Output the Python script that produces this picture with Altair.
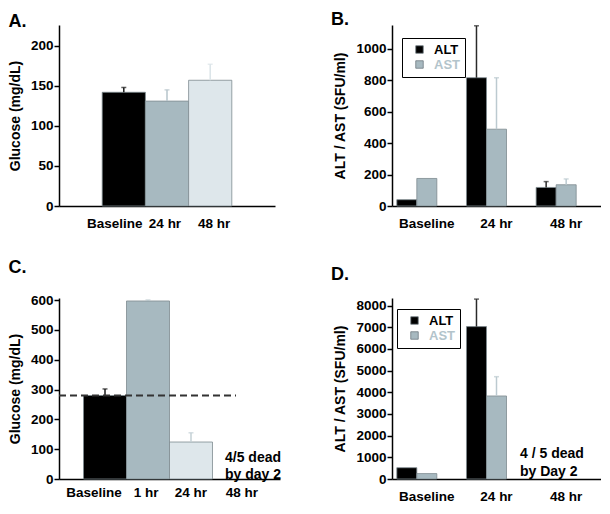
import altair as alt
import pandas as pd

FONT = "Liberation Sans"

# ---------------- data ----------------
# Panel A: glucose, baseline / 24 hr / 48 hr
a_cats = ["Baseline", "24 hr", "48 hr"]
a_vals = [142, 131, 157]
a_errs = [148, 145, 177]
a_fill = ["#000000", "#a7b9c0", "#dee7eb"]
a_ecol = ["#1a1a1a", "#b6c5cb", "#dbe4e8"]

# Panel B: ALT / AST
b_cats = ["Baseline", "24 hr", "48 hr"]
b_series = ["ALT", "AST"]
b_alt = [40, 815, 118]
b_alt_err = [None, 1145, 155]
b_ast = [175, 488, 135]
b_ast_err = [None, 815, 172]

# Panel C: glucose, baseline / 1 hr / 24 hr / 48 hr
c_cats = ["Baseline", "1 hr", "24 hr", "48 hr"]
c_vals = [280, 597, 124, None]
c_errs = [302, 600, 155, None]
c_fill = ["#000000", "#a7b9c0", "#dee7eb", "#ffffff"]
c_ecol = ["#1a1a1a", "#b6c5cb", "#c3d0d5", "#ffffff"]
c_threshold = [280]
c_note = ["4/5 dead\nby day 2"]
c_note_y = [71]

# Panel D: ALT / AST
d_cats = ["Baseline", "24 hr", "48 hr"]
d_alt = [520, 7030, None]
d_alt_err = [None, 8300, None]
d_ast = [250, 3830, None]
d_ast_err = [None, 4720, None]
d_note = ["4 / 5 dead\nby Day 2"]
d_note_y = [1150]

SERIES_COLORS = ["#000000", "#a7b9c0"]
SERIES_ECOL = {"ALT": "#2a2a2a", "AST": "#bccad0"}

# ---------------- helpers ----------------
def yaxis(title, values):
    return alt.Axis(title=title, values=values, format="d", grid=False, domainColor="black",
                    domainWidth=1.5, tickColor="black", tickWidth=1.5, tickSize=5,
                    labelFont=FONT, labelFontSize=13.5, labelFontWeight="bold",
                    labelColor="black", labelPadding=1, labelFlush=False,
                    titleFont=FONT, titleFontSize=14, titleFontWeight="bold",
                    titleColor="black", titlePadding=8)


def xaxis(pad, offexpr="0"):
    return alt.Axis(title=None, ticks=False, labelAngle=0, domainColor="black",
                    domainWidth=1.5, labelFont=FONT, labelFontSize=13.5,
                    labelFontWeight="bold", labelColor="black", labelPadding=pad,
                    labelOffset={"expr": offexpr})


def ptitle(text, dx, offset):
    return alt.TitleParams(text=text, anchor="start", frame="bounds", font=FONT, fontSize=18,
                           fontWeight="bold", color="black", dx=dx, offset=offset,
                           baseline="bottom")


def legend(lx, ly):
    return alt.Legend(title=None, orient="none", legendX=lx, legendY=ly,
                      direction="vertical", symbolType="square", symbolSize=56,
                      symbolStrokeColor="#6d7a80", symbolStrokeWidth=0.8,
                      labelFont=FONT, labelFontSize=13, labelFontWeight="bold",
                      labelColor={"expr": "datum.value == 'AST' ? '#b3c4cb' : '#000000'"},
                      padding=5, symbolOffset=6, labelOffset=8, rowPadding=1,
                      strokeColor="black", fillColor="white")


LEG_W, LEG_H = 57, 37


def shadow(x0, y0, w, h):
    return alt.Chart(pd.DataFrame({"s": [0]})).mark_rect(fill="#3a3a3a").encode(
        x=alt.value(x0 + 3), x2=alt.value(x0 + 3 + w),
        y=alt.value(y0 + 3), y2=alt.value(y0 + 3 + h))


# ---------------- Panel A ----------------
dfa = pd.DataFrame({"cat": a_cats, "value": a_vals, "err": a_errs,
                    "fill": a_fill, "ecol": a_ecol})
ya = dict(scale=alt.Scale(domain=[0, 226], nice=False),
          axis=yaxis("Glucose (mg/dL)", [0, 50, 100, 150, 200]))
xa = dict(scale=alt.Scale(domain=a_cats, paddingInner=0, paddingOuter=1),
          axis=xaxis(10, "datum.value == 'Baseline' ? -9 : (datum.value == '48 hr' ? 4 : -2)"))
baseA = alt.Chart(dfa)
barsA = baseA.mark_bar(stroke="#7d8a8f", strokeWidth=0.8).encode(
    x=alt.X("cat:N", **xa), y=alt.Y("value:Q", **ya), fill=alt.Fill("fill:N", scale=None))
errA = baseA.mark_rule(strokeWidth=1.5).encode(
    x=alt.X("cat:N", **xa), y=alt.Y("err:Q", **ya), y2="value:Q",
    color=alt.Color("ecol:N", scale=None))
capA = baseA.mark_tick(size=5, thickness=1.5).encode(
    x=alt.X("cat:N", **xa), y=alt.Y("err:Q", **ya), color=alt.Color("ecol:N", scale=None))
A = alt.layer(barsA, errA, capA).properties(
    width=216, height=181, title=ptitle("A.", 0, -24))

# ---------------- long tables for B / D ----------------
def long_table(cats, alt_v, alt_e, ast_v, ast_e):
    rows = []
    for i, c in enumerate(cats):
        rows.append({"cat": c, "series": "ALT", "value": alt_v[i], "err": alt_e[i],
                     "ecol": SERIES_ECOL["ALT"]})
        rows.append({"cat": c, "series": "AST", "value": ast_v[i], "err": ast_e[i],
                     "ecol": SERIES_ECOL["AST"]})
    return pd.DataFrame(rows)


def grouped(df, cats, ydom, yvals, offdom, offpad, lx, ly, xpad):
    yy = dict(scale=alt.Scale(domain=ydom, nice=False),
              axis=yaxis("ALT / AST (SFU/ml)", yvals))
    xx = dict(scale=alt.Scale(domain=cats, paddingInner=0, paddingOuter=0), axis=xaxis(xpad))
    xo = dict(scale=alt.Scale(domain=offdom, paddingInner=0, paddingOuter=offpad))
    dfb = df[df["value"].notna()]
    dfe = df[df["err"].notna()]
    bars = alt.Chart(dfb).mark_bar(stroke="#7d8a8f", strokeWidth=0.8).encode(
        x=alt.X("cat:N", **xx), xOffset=alt.XOffset("series:N", **xo),
        y=alt.Y("value:Q", **yy),
        fill=alt.Fill("series:N", scale=alt.Scale(domain=b_series, range=SERIES_COLORS),
                      legend=legend(lx, ly)))
    err = alt.Chart(dfe).mark_rule(strokeWidth=1.5).encode(
        x=alt.X("cat:N", **xx), xOffset=alt.XOffset("series:N", **xo),
        y=alt.Y("err:Q", **yy), y2="value:Q", color=alt.Color("ecol:N", scale=None))
    cap = alt.Chart(dfe).mark_tick(size=5, thickness=1.5).encode(
        x=alt.X("cat:N", **xx), xOffset=alt.XOffset("series:N", **xo),
        y=alt.Y("err:Q", **yy), color=alt.Color("ecol:N", scale=None))
    return [bars, err, cap], yy


RW = 209  # right column plot width

# ---------------- Panel B ----------------
dfB = long_table(b_cats, b_alt, b_alt_err, b_ast, b_ast_err)
layersB, yb = grouped(dfB, b_cats, [0, 1150], [0, 200, 400, 600, 800, 1000],
                      b_series, 0.24, 10, 13, 10)
B = alt.layer(shadow(10, 13, LEG_W, LEG_H), *layersB).properties(
    width=RW, height=181, title=ptitle("B.", -3, -22))

# ---------------- Panel C ----------------
dfc = pd.DataFrame({"cat": c_cats, "value": c_vals, "err": c_errs,
                    "fill": c_fill, "ecol": c_ecol})
yc = dict(scale=alt.Scale(domain=[0, 607], nice=False),
          axis=yaxis("Glucose (mg/dL)", [0, 100, 200, 300, 400, 500, 600]))
xc = dict(scale=alt.Scale(domain=c_cats, paddingInner=0, paddingOuter=0.57),
          axis=xaxis(6, "datum.value == 'Baseline' ? -11 : (datum.value == '48 hr' ? 8 : (datum.value == '1 hr' ? -2 : 0))"))
dfc_b = dfc[dfc["value"].notna()]
barsC = alt.Chart(dfc_b).mark_bar(stroke="#7d8a8f", strokeWidth=0.8).encode(
    x=alt.X("cat:N", **xc), y=alt.Y("value:Q", **yc), fill=alt.Fill("fill:N", scale=None))
errC = alt.Chart(dfc_b).mark_rule(strokeWidth=1.5).encode(
    x=alt.X("cat:N", **xc), y=alt.Y("err:Q", **yc), y2="value:Q",
    color=alt.Color("ecol:N", scale=None))
capC = alt.Chart(dfc_b).mark_tick(size=5, thickness=1.5).encode(
    x=alt.X("cat:N", **xc), y=alt.Y("err:Q", **yc), color=alt.Color("ecol:N", scale=None))
lineC = alt.Chart(pd.DataFrame({"value": c_threshold})).mark_rule(
    stroke="#333333", strokeWidth=2, strokeDash=[7, 4]).encode(
    y=alt.Y("value:Q", **yc), x=alt.value(0), x2=alt.value(177))
noteC = alt.Chart(pd.DataFrame({"value": c_note_y, "note": c_note})).mark_text(
    font=FONT, fontSize=14, fontWeight="bold", align="left", baseline="middle",
    lineBreak="\n", lineHeight=17, color="black").encode(
    y=alt.Y("value:Q", **yc), x=alt.value(166), text="note:N")
C = alt.layer(barsC, errC, capC, lineC, noteC).properties(
    width=221, height=181, title=ptitle("C.", 0, -2))

# ---------------- Panel D ----------------
dfD = long_table(d_cats, d_alt, d_alt_err, d_ast, d_ast_err)
layersD, yd = grouped(dfD, d_cats, [0, 8350],
                      [0, 1000, 2000, 3000, 4000, 5000, 6000, 7000, 8000],
                      ["ALT", "AST", "_"], 0.39, 5, 11, 10)
noteD = alt.Chart(pd.DataFrame({"value": d_note_y, "note": d_note})).mark_text(
    font=FONT, fontSize=14, fontWeight="bold", align="left", baseline="middle",
    lineBreak="\n", lineHeight=18, color="black").encode(
    y=alt.Y("value:Q", **yd), x=alt.value(128), text="note:N")
D = alt.layer(shadow(5, 11, LEG_W, LEG_H), *layersD, noteD).properties(
    width=RW, height=181, title=ptitle("D.", -3, -4))

chart = alt.concat(A, B, C, D, columns=2, spacing={"row": 92, "column": 112},
                   bounds="flush").properties(
    padding={"left": 0, "right": 0, "top": 3, "bottom": 0}
).resolve_scale(fill="independent").resolve_legend(fill="independent").configure(
    font=FONT).configure_view(stroke=None)

chart.save("out.html", embed_options={"renderer": "svg", "actions": False})
